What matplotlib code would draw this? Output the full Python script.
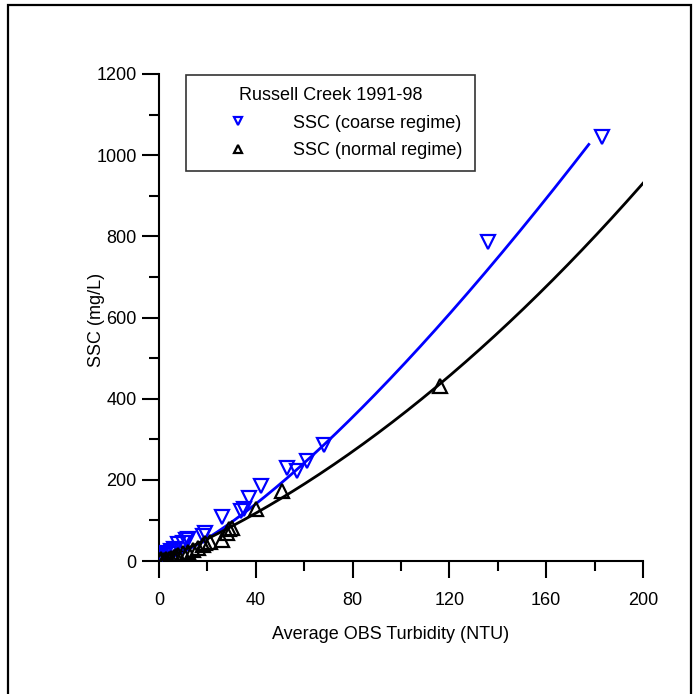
import numpy as np
import matplotlib
matplotlib.use('Agg')
from matplotlib import pyplot as plt
from matplotlib.patches import Rectangle
from matplotlib.ticker import MultipleLocator

plt.rcParams['font.family'] = ['Liberation Sans', 'DejaVu Sans']

# coarse regime samples
coarse_ntu = [0.5, 1, 1.5, 2, 3, 4, 5, 6, 8, 10, 11, 12, 18, 19, 26, 34, 35, 37, 42, 53, 57, 61, 68, 136, 183]
coarse_ssc = [8, 12, 5, 15, 20, 18, 25, 30, 42, 45, 52, 55, 62, 70, 108, 123, 128, 155, 185, 229, 222, 246, 286, 786, 1045]

# normal regime samples
normal_ntu = [0.5, 1, 2, 3, 4, 5, 6, 7, 8, 10, 12, 14, 16, 18, 19, 21, 26, 28, 29, 30, 40, 51, 116]
normal_ssc = [2, 4, 3, 6, 5, 8, 10, 12, 15, 20, 22, 27, 33, 40, 44, 47, 52, 70, 78, 82, 127, 172, 430]

# fitted rating curves: coarse = a * x^b, normal = c2*x^2 + c1*x
coarse_fit = (1.03, 1.333)
coarse_fit_max = 177.6
normal_fit = [0.01067, 2.52, 0.0]
normal_fit_max = 200

FS = 13

fig = plt.figure(figsize=(7, 6.94), dpi=100)
ax = fig.add_axes([159/700, 133/694, 484/700, 487/694])

# outer frame (runs off the bottom edge like the original)
fig.patches.append(Rectangle((8/700, -0.05), 683/700, 1.05 - 5/694, transform=fig.transFigure,
                             fill=False, edgecolor='black', linewidth=1.6))

xc = np.linspace(0, coarse_fit_max, 200)
xn = np.linspace(0, normal_fit_max, 200)
ax.plot(xc, coarse_fit[0] * xc ** coarse_fit[1], color='#0000ff', linewidth=2, zorder=2)
ax.plot(xn, np.polyval(normal_fit, xn), color='black', linewidth=2, zorder=2)

ax.plot(coarse_ntu, coarse_ssc, linestyle='none', marker='v', markersize=10,
        markerfacecolor='none', markeredgecolor='#0000ff', markeredgewidth=1.6,
        label='SSC (coarse regime)', zorder=3)
ax.plot(normal_ntu, normal_ssc, linestyle='none', marker='^', markersize=10,
        markerfacecolor='none', markeredgecolor='black', markeredgewidth=1.6,
        label='SSC (normal regime)', zorder=3)

ax.set_xlim(0, 200)
ax.set_ylim(0, 1200)
ax.xaxis.set_major_locator(MultipleLocator(40))
ax.xaxis.set_minor_locator(MultipleLocator(20))
ax.yaxis.set_major_locator(MultipleLocator(200))
ax.yaxis.set_minor_locator(MultipleLocator(100))
ax.tick_params(which='major', direction='out', length=12, width=1.5, labelsize=FS)
ax.tick_params(which='minor', direction='out', length=7, width=1.5)
ax.tick_params(axis='y', which='major', pad=4)
ax.tick_params(axis='x', which='major', pad=10)
ax.spines['top'].set_visible(False)
ax.spines['right'].set_visible(False)
ax.spines['left'].set_linewidth(1.5)
ax.spines['bottom'].set_linewidth(1.5)

ax.set_xlabel('Average OBS Turbidity (NTU)', fontsize=FS)
ax.set_ylabel('SSC (mg/L)', fontsize=FS)
ax.xaxis.set_label_coords(232/484, -65/487)
ax.yaxis.set_label_coords(-54/484, 0.495)

leg = ax.legend(title='Russell Creek 1991-98', loc='upper left',
                bbox_to_anchor=(27/484, 0.998), borderaxespad=0, fontsize=FS, title_fontsize=FS,
                frameon=True, fancybox=False, edgecolor='black', markerscale=0.6,
                handletextpad=0.8, borderpad=0.65, labelspacing=0.6, handlelength=4.5)
leg.get_frame().set_linewidth(1.2)

fig.savefig('out.png', dpi=100)
